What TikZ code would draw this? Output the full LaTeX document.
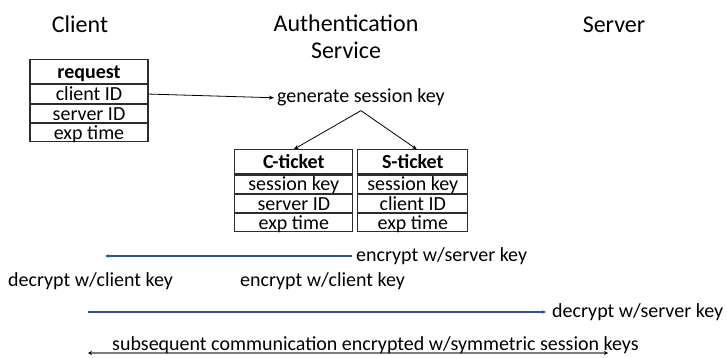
\documentclass[tikz,border=0pt]{standalone}
\usepackage{fontspec}
\setmainfont{Carlito}
\usetikzlibrary{arrows.meta}
\definecolor{lineblue}{RGB}{47,85,151}
\definecolor{linegray}{RGB}{125,125,125}
\definecolor{boxline}{RGB}{45,45,45}
\begin{document}
\begin{tikzpicture}[x=1pt,y=-1pt,
  every node/.style={font=\fontsize{20}{24}\selectfont},
  title/.style={font=\fontsize{24}{29}\selectfont, anchor=base, inner sep=0pt},
  hdr/.style={draw=boxline, line width=1.1pt, inner sep=0pt, anchor=north,
    minimum height=24pt, text height=19pt, text depth=5pt,
    font=\fontsize{20}{24}\selectfont\bfseries},
  row/.style={draw=boxline, line width=1.1pt, inner sep=0pt, anchor=north,
    minimum height=18.2pt, text height=15.8pt, text depth=2.4pt},
  lbl/.style={anchor=west, inner sep=0pt},
  blk/.style={draw=black, line width=0.8pt, -{Stealth[length=5pt,width=4pt]}},
  bluearr/.style={draw=lineblue, line width=1.1pt, -{Stealth[length=4pt,width=3.5pt]}},
  grayarr/.style={draw=linegray, line width=1.6pt,
    {Stealth[length=4pt,width=4pt,black]}-{Stealth[length=4pt,width=4pt,black]}}
]
\useasboundingbox (0,0) rectangle (727,358);

% titles
\node[title] (client) at (80,33) {Client};
\node[title] (auth) at (346,32) {Authentication};
\node[title] (service) at (346,59) {Service};
\node[title] (server) at (614,33) {Server};

% request box
\node[hdr, minimum width=118pt] (req) at (89,59.3) {request};
\node[row, minimum width=118pt] (reqc) at (req.south) {client ID};
\node[row, minimum width=118pt] (reqs) at (reqc.south) {server ID};
\node[row, minimum width=118pt] (reqe) at (reqs.south) {exp time};

% generate
\node[anchor=base west, inner xsep=3pt, inner ysep=4pt] (gen) at (274,103) {generate session key};
\draw[blk] (reqc.east) -- (gen.west);

% C-ticket
\node[hdr, minimum width=118pt] (ct) at (293.8,149.3) {C-ticket};
\node[row, minimum width=118pt] (cts) at (ct.south) {session key};
\node[row, minimum width=118pt] (ctv) at (cts.south) {server ID};
\node[row, minimum width=118pt] (cte) at (ctv.south) {exp time};

% S-ticket
\node[hdr, minimum width=110pt] (st) at (412.8,149.3) {S-ticket};
\node[row, minimum width=110pt] (sts) at (st.south) {session key};
\node[row, minimum width=110pt] (stc) at (sts.south) {client ID};
\node[row, minimum width=110pt] (ste) at (stc.south) {exp time};

\draw[blk] (gen.south) -- (ct.north);
\draw[blk] (gen.south) -- ([xshift=4pt]st.north);

% exchange
\node[lbl] (encsrv) at (356,256) {encrypt w/server key};
\coordinate (cl1) at (105,256);
\draw[bluearr, shorten <=4pt] (encsrv.west) -- (cl1);

\node[lbl] (deccl) at (8,281) {decrypt w/client key};
\node[lbl] (enccl) at (240,281) {encrypt w/client key};

\coordinate (cl2) at (88,312);
\node[lbl] (decsrv) at (552,312) {decrypt w/server key};
\draw[bluearr, shorten >=6pt] (cl2) -- (decsrv.west);

\coordinate (bl) at (88,353);
\coordinate (br) at (608,353);
\draw[grayarr] (bl) -- (br);
\node[anchor=base west, inner sep=0pt] (subs) at (112,350) {subsequent communication encrypted w/symmetric session keys};
\end{tikzpicture}
\end{document}
